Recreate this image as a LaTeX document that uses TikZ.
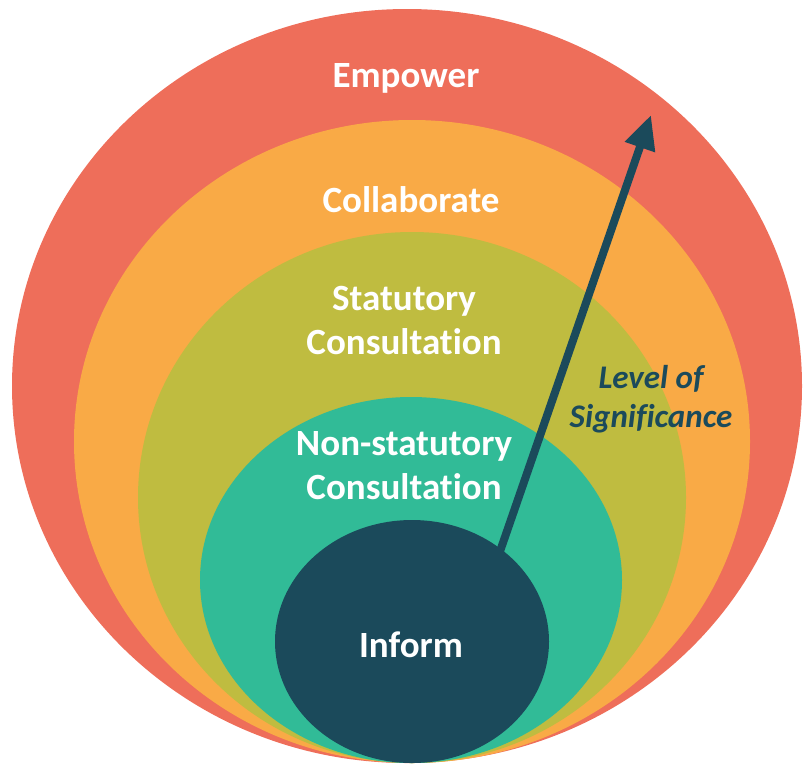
\documentclass[tikz,border=0pt]{standalone}
\usepackage{fontspec}
\setmainfont[Ligatures=NoCommon]{Carlito}
\usetikzlibrary{shapes.geometric,arrows.meta}
\definecolor{empowerred}{HTML}{EE6E5A}
\definecolor{collaborateorange}{HTML}{F9AA46}
\definecolor{statutoryolive}{HTML}{BFBC40}
\definecolor{nonstatutoryteal}{HTML}{31BB97}
\definecolor{informblue}{HTML}{1B4A5B}
\begin{document}
\begin{tikzpicture}[x=1pt,y=-1pt,
  ring/.style={ellipse,inner sep=0pt,outer sep=0pt},
  ringlabel/.style={text=white,font=\fontsize{37}{44}\selectfont\bfseries,align=center}]
\useasboundingbox (0,0) rectangle (805,764);

% Nested rings, all touching at the bottom
\node[ring,fill=empowerred,minimum width=790pt,minimum height=754pt] (empower) at (407,386) {};
\node[ring,fill=collaborateorange,minimum width=676pt,minimum height=643pt] (collaborate) at (412,441.5) {};
\node[ring,fill=statutoryolive,minimum width=548pt,minimum height=531pt] (statutory) at (412,497.5) {};
\node[ring,fill=nonstatutoryteal,minimum width=422pt,minimum height=366pt] (nonstatutory) at (411,580) {};
\node[ring,fill=informblue,minimum width=274pt,minimum height=243pt] (inform) at (412,641.5) {};

% Arrow
\coordinate (arrowstart) at (497,560);
\coordinate (arrowtip) at (651,115);
\draw[-{Triangle[length=34pt,width=30pt]},line width=8pt,informblue] (arrowstart) -- (arrowtip);

% Labels
\node[ringlabel] (empowertext) at (406,78) {Empower};
\node[ringlabel] (collaboratetext) at (411,200) {Collaborate};
\node[ringlabel] (statutorytext) at (404,320) {Statutory\\Consultation};
\node[ringlabel] (nonstatutorytext) at (404,466) {Non-statutory\\Consultation};
\node[ringlabel] (informtext) at (411,645) {Inform};
\node[text=informblue,font=\fontsize{33}{39}\selectfont\bfseries\itshape,align=center] (significance) at (651,399) {Level of\\Significance};
\end{tikzpicture}
\end{document}
